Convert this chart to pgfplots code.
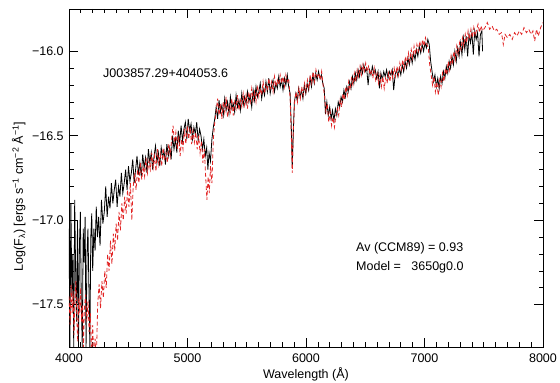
\documentclass[border=0pt]{standalone}
\usepackage{pgfplots}
\pgfplotsset{compat=1.18}
\usepackage{fontspec}
\setmainfont{Liberation Sans}
\definecolor{modred}{RGB}{225,35,35}
\begin{document}
\fontsize{12.5}{15}\selectfont
\begin{tikzpicture}
\begin{axis}[
  name=ax,
  scale only axis,
  width=474pt, height=338pt,
  xmin=4000, xmax=8000, ymin=-17.75, ymax=-15.75,
  xtick={4000,5000,6000,7000,8000},
  xticklabels={4000,5000,6000,7000,8000},
  ytick={-17.5,-17,-16.5,-16},
  yticklabels={−17.5,−17.0,−16.5,−16.0},
  minor x tick num=9,
  minor y tick num=4,
  tick align=inside,
  major tick length=9pt,
  minor tick length=4.5pt,
  axis line style={line width=0.8pt},
  every tick/.style={line width=0.7pt, black},
  tick label style={font=\fontsize{12.5}{15}\selectfont},
  xticklabel style={yshift=-2pt},
  yticklabel style={xshift=-1pt},
  label style={font=\fontsize{12.5}{15}\selectfont},
  xlabel={Wavelength (Å)},
  ylabel={Log(F\textsubscript{λ}) [ergs s\textsuperscript{−1} cm\textsuperscript{−2} Å\textsuperscript{−1}]},
  xlabel style={yshift=3pt},
  ylabel style={at={(ticklabel cs:0.445)}, yshift=-2pt},
  clip=true,
]
\addplot[black, line width=0.8pt] coordinates {
(4000,-17.05) (4008,-17.75) (4016,-16.90) (4024,-17.45) (4032,-17.20) (4040,-17.75)
(4048,-16.88) (4056,-17.30) (4064,-17.60) (4072,-17.00) (4080,-17.75) (4088,-17.15)
(4096,-16.95) (4104,-17.50) (4112,-17.75) (4120,-17.05) (4128,-17.25) (4136,-16.98)
(4144,-17.75) (4152,-17.20) (4160,-17.05) (4168,-17.40) (4176,-17.75) (4184,-17.10)
(4192,-16.96) (4200,-17.30) (4210,-17.05) (4220,-17.18) (4230,-16.92) (4240,-17.10)
(4250,-16.98) (4262,-17.15) (4274,-16.88) (4286,-17.02) (4298,-16.95) (4310,-16.80)
(4322,-16.98) (4334,-16.86) (4346,-16.93) (4358,-16.78) (4370,-16.90) (4382,-16.82)
(4394,-16.76) (4406,-16.92) (4418,-16.80) (4430,-16.86) (4442,-16.72) (4454,-16.84)
(4466,-16.78) (4478,-16.70) (4490,-16.82) (4502,-16.68) (4514,-16.77) (4526,-16.72)
(4538,-16.64) (4550,-16.78) (4562,-16.70) (4574,-16.62) (4586,-16.73) (4598,-16.66)
(4610,-16.74) (4622,-16.61) (4634,-16.69) (4646,-16.63) (4658,-16.72) (4670,-16.58)
(4682,-16.66) (4694,-16.60) (4706,-16.70) (4718,-16.62) (4730,-16.56) (4742,-16.66)
(4754,-16.60) (4766,-16.68) (4778,-16.57) (4790,-16.63) (4802,-16.59) (4814,-16.67)
(4826,-16.55) (4838,-16.62) (4850,-16.57) (4862,-16.64) (4874,-16.50) (4886,-16.58)
(4898,-16.52) (4910,-16.60) (4922,-16.47) (4934,-16.54) (4946,-16.44) (4958,-16.53)
(4970,-16.46) (4982,-16.42) (4994,-16.52) (5006,-16.40) (5018,-16.47) (5030,-16.43)
(5042,-16.52) (5054,-16.45) (5066,-16.49) (5078,-16.42) (5090,-16.53) (5102,-16.46)
(5114,-16.50) (5126,-16.58) (5138,-16.52) (5150,-16.62) (5162,-16.57) (5172,-16.70)
(5182,-16.60) (5194,-16.65) (5206,-16.52) (5218,-16.45) (5230,-16.40) (5242,-16.33)
(5254,-16.40) (5266,-16.29) (5278,-16.36) (5290,-16.32) (5302,-16.38) (5314,-16.28)
(5326,-16.35) (5338,-16.30) (5350,-16.37) (5362,-16.27) (5374,-16.34) (5386,-16.31)
(5398,-16.36) (5410,-16.26) (5422,-16.33) (5434,-16.29) (5446,-16.35) (5458,-16.25)
(5470,-16.32) (5482,-16.27) (5494,-16.31) (5506,-16.24) (5518,-16.30) (5530,-16.26)
(5542,-16.33) (5554,-16.23) (5566,-16.29) (5578,-16.21) (5590,-16.27) (5602,-16.24)
(5614,-16.19) (5626,-16.28) (5638,-16.22) (5650,-16.26) (5662,-16.18) (5674,-16.24)
(5686,-16.16) (5698,-16.25) (5710,-16.20) (5722,-16.17) (5734,-16.24) (5746,-16.19)
(5758,-16.22) (5770,-16.15) (5782,-16.21) (5794,-16.17) (5806,-16.23) (5818,-16.16)
(5830,-16.20) (5842,-16.14) (5854,-16.21) (5866,-16.25) (5876,-16.45) (5884,-16.69)
(5892,-16.50) (5902,-16.30) (5914,-16.25) (5926,-16.29) (5938,-16.22) (5950,-16.27)
(5962,-16.23) (5974,-16.28) (5986,-16.20) (5998,-16.25) (6010,-16.19) (6022,-16.23)
(6034,-16.16) (6046,-16.21) (6058,-16.14) (6070,-16.19) (6082,-16.13) (6094,-16.17)
(6106,-16.12) (6118,-16.16) (6130,-16.14) (6142,-16.19) (6154,-16.22) (6164,-16.37)
(6176,-16.30) (6188,-16.38) (6200,-16.33) (6212,-16.40) (6224,-16.35) (6236,-16.41)
(6248,-16.34) (6260,-16.38) (6272,-16.30) (6284,-16.33) (6296,-16.27) (6308,-16.30)
(6320,-16.23) (6332,-16.27) (6344,-16.21) (6356,-16.24) (6368,-16.18) (6380,-16.22)
(6392,-16.15) (6404,-16.19) (6416,-16.13) (6428,-16.17) (6440,-16.11) (6452,-16.15)
(6464,-16.09) (6476,-16.13) (6488,-16.08) (6500,-16.12) (6512,-16.10) (6524,-16.20)
(6536,-16.11) (6548,-16.14) (6560,-16.09) (6572,-16.13) (6584,-16.11) (6596,-16.16)
(6608,-16.12) (6620,-16.22) (6632,-16.13) (6644,-16.17) (6656,-16.12) (6668,-16.15)
(6680,-16.11) (6692,-16.16) (6704,-16.12) (6716,-16.14) (6728,-16.11) (6740,-16.23)
(6752,-16.14) (6764,-16.11) (6776,-16.15) (6788,-16.10) (6800,-16.14) (6812,-16.08)
(6824,-16.12) (6836,-16.06) (6848,-16.10) (6860,-16.04) (6872,-16.08) (6884,-16.02)
(6896,-16.07) (6908,-16.01) (6920,-16.05) (6932,-15.99) (6944,-16.03) (6956,-15.97)
(6968,-16.01) (6980,-15.96) (6992,-16.00) (7004,-15.95) (7016,-15.98) (7028,-15.93)
(7040,-15.96) (7052,-16.06) (7064,-16.12) (7076,-16.18) (7088,-16.14) (7100,-16.21)
(7112,-16.16) (7124,-16.22) (7136,-16.15) (7148,-16.19) (7160,-16.12) (7172,-16.16)
(7184,-16.09) (7196,-16.13) (7208,-16.06) (7220,-16.10) (7232,-16.03) (7244,-16.08)
(7256,-16.00) (7268,-16.06) (7280,-15.98) (7292,-16.03) (7304,-15.95) (7316,-16.02)
(7328,-15.92) (7340,-15.99) (7352,-15.91) (7364,-16.03) (7376,-15.90) (7388,-15.95)
(7400,-15.89) (7412,-16.02) (7424,-15.88) (7436,-15.93) (7448,-15.89) (7460,-16.03)
(7472,-15.90) (7484,-15.88) (7490,-16.00)
};
\addplot[modred, line width=0.8pt, dash pattern=on 4pt off 2.5pt] coordinates {
(4000,-17.45) (4010,-17.62) (4018,-17.38) (4026,-17.55) (4034,-17.42) (4042,-17.68)
(4050,-17.48) (4058,-17.36) (4066,-17.58) (4074,-17.72) (4082,-17.46) (4090,-17.55)
(4098,-17.40) (4106,-17.60) (4114,-17.50) (4122,-17.75) (4130,-17.52) (4140,-17.44)
(4150,-17.60) (4160,-17.48) (4170,-17.66) (4180,-17.55) (4190,-17.80) (4200,-17.62)
(4210,-17.85) (4220,-17.70) (4230,-17.85) (4242,-17.50) (4254,-17.38) (4266,-17.52)
(4278,-17.36) (4290,-17.46) (4302,-17.30) (4314,-17.40) (4326,-17.20) (4338,-17.30)
(4350,-17.12) (4362,-17.26) (4374,-17.08) (4386,-17.18) (4398,-17.02) (4410,-17.12)
(4422,-16.95) (4434,-17.06) (4446,-16.90) (4458,-17.00) (4470,-16.86) (4482,-16.96)
(4494,-16.82) (4506,-16.92) (4518,-16.78) (4530,-17.00) (4542,-16.80) (4554,-16.72)
(4566,-16.82) (4578,-16.70) (4590,-16.78) (4602,-16.66) (4614,-16.76) (4626,-16.68)
(4638,-16.74) (4650,-16.63) (4662,-16.72) (4674,-16.65) (4686,-16.70) (4698,-16.60)
(4710,-16.69) (4722,-16.62) (4734,-16.71) (4746,-16.58) (4758,-16.67) (4770,-16.61)
(4782,-16.68) (4794,-16.57) (4806,-16.65) (4818,-16.60) (4830,-16.66) (4842,-16.55)
(4854,-16.62) (4866,-16.52) (4878,-16.44) (4890,-16.54) (4902,-16.48) (4914,-16.58)
(4926,-16.50) (4938,-16.62) (4950,-16.52) (4962,-16.58) (4974,-16.46) (4986,-16.55)
(4998,-16.44) (5010,-16.52) (5022,-16.45) (5034,-16.55) (5046,-16.47) (5058,-16.54)
(5070,-16.48) (5082,-16.58) (5094,-16.50) (5106,-16.60) (5118,-16.53) (5130,-16.66)
(5142,-16.58) (5154,-16.75) (5164,-16.88) (5174,-16.74) (5184,-16.84) (5194,-16.68)
(5206,-16.78) (5218,-16.52) (5230,-16.42) (5242,-16.36) (5254,-16.28) (5266,-16.38)
(5278,-16.31) (5290,-16.40) (5302,-16.30) (5314,-16.36) (5326,-16.27) (5338,-16.39)
(5350,-16.32) (5362,-16.36) (5374,-16.28) (5386,-16.38) (5398,-16.30) (5410,-16.34)
(5422,-16.26) (5434,-16.35) (5446,-16.29) (5458,-16.33) (5470,-16.25) (5482,-16.32)
(5494,-16.26) (5506,-16.34) (5518,-16.24) (5530,-16.30) (5542,-16.22) (5554,-16.29)
(5566,-16.24) (5578,-16.30) (5590,-16.20) (5602,-16.27) (5614,-16.22) (5626,-16.26)
(5638,-16.18) (5650,-16.25) (5662,-16.20) (5674,-16.23) (5686,-16.16) (5698,-16.22)
(5710,-16.18) (5722,-16.24) (5734,-16.15) (5746,-16.21) (5758,-16.17) (5770,-16.20)
(5782,-16.14) (5794,-16.19) (5806,-16.15) (5818,-16.21) (5830,-16.14) (5842,-16.18)
(5854,-16.16) (5866,-16.28) (5876,-16.50) (5884,-16.72) (5892,-16.48) (5904,-16.30)
(5916,-16.24) (5928,-16.30) (5940,-16.22) (5952,-16.28) (5964,-16.21) (5976,-16.26)
(5988,-16.19) (6000,-16.24) (6012,-16.17) (6024,-16.22) (6036,-16.14) (6048,-16.19)
(6060,-16.12) (6072,-16.18) (6084,-16.11) (6096,-16.15) (6108,-16.13) (6120,-16.17)
(6132,-16.12) (6144,-16.20) (6156,-16.26) (6168,-16.36) (6180,-16.31) (6192,-16.42)
(6204,-16.36) (6216,-16.44) (6228,-16.39) (6240,-16.45) (6252,-16.38) (6264,-16.34)
(6276,-16.38) (6288,-16.29) (6300,-16.33) (6312,-16.25) (6324,-16.29) (6336,-16.21)
(6348,-16.26) (6360,-16.18) (6372,-16.23) (6384,-16.16) (6396,-16.20) (6408,-16.13)
(6420,-16.18) (6432,-16.11) (6444,-16.15) (6456,-16.09) (6468,-16.14) (6480,-16.08)
(6492,-16.12) (6504,-16.07) (6516,-16.12) (6528,-16.09) (6540,-16.14) (6552,-16.11)
(6564,-16.16) (6576,-16.10) (6588,-16.17) (6600,-16.13) (6612,-16.19) (6624,-16.14)
(6636,-16.21) (6648,-16.15) (6660,-16.22) (6672,-16.16) (6684,-16.19) (6696,-16.13)
(6708,-16.18) (6720,-16.12) (6732,-16.16) (6744,-16.10) (6756,-16.15) (6768,-16.09)
(6780,-16.14) (6792,-16.07) (6804,-16.11) (6816,-16.05) (6828,-16.10) (6840,-16.03)
(6852,-16.08) (6864,-16.01) (6876,-16.06) (6888,-15.99) (6900,-16.04) (6912,-15.97)
(6924,-16.02) (6936,-15.96) (6948,-16.00) (6960,-15.94) (6972,-15.99) (6984,-15.93)
(6996,-15.97) (7008,-15.92) (7020,-15.96) (7032,-15.98) (7044,-16.08) (7056,-16.14)
(7068,-16.20) (7080,-16.15) (7092,-16.24) (7104,-16.18) (7116,-16.26) (7128,-16.17)
(7140,-16.21) (7152,-16.13) (7164,-16.18) (7176,-16.10) (7188,-16.14) (7200,-16.06)
(7212,-16.11) (7224,-16.03) (7236,-16.08) (7248,-16.00) (7260,-16.05) (7272,-15.97)
(7284,-16.02) (7296,-15.95) (7308,-15.99) (7320,-15.92) (7332,-15.97) (7344,-15.90)
(7356,-15.95) (7368,-15.88) (7380,-15.93) (7392,-15.87) (7404,-15.92) (7416,-15.86)
(7428,-15.91) (7440,-15.87) (7452,-15.84) (7464,-15.89) (7476,-15.85) (7490,-15.88)
(7510,-15.86) (7530,-15.83) (7550,-15.87) (7570,-15.85) (7590,-15.88) (7610,-15.87)
(7630,-15.90) (7650,-15.89) (7665,-15.96) (7680,-15.90) (7700,-15.92) (7720,-15.90)
(7740,-15.93) (7760,-15.89) (7780,-15.91) (7800,-15.88) (7820,-15.90) (7840,-15.86)
(7860,-15.89) (7880,-15.87) (7900,-15.90) (7915,-15.88) (7930,-15.94) (7945,-15.87)
(7960,-15.91) (7980,-15.86) (8000,-15.83)
};
\node[anchor=west, inner sep=0pt] at (axis cs:4287,-16.127) {J003857.29+404053.6};
\node[anchor=west, inner sep=0pt] at (axis cs:6422,-17.168) {Av (CCM89) = 0.93};
\node[anchor=west, inner sep=0pt] at (axis cs:6422,-17.280) {Model =\ \ \ 3650g0.0};
\end{axis}
\pgfresetboundingbox
\path[use as bounding box] ([xshift=-69pt,yshift=-36pt]ax.south west) rectangle ([xshift=17pt,yshift=9pt]ax.north east);
\end{tikzpicture}
\end{document}
